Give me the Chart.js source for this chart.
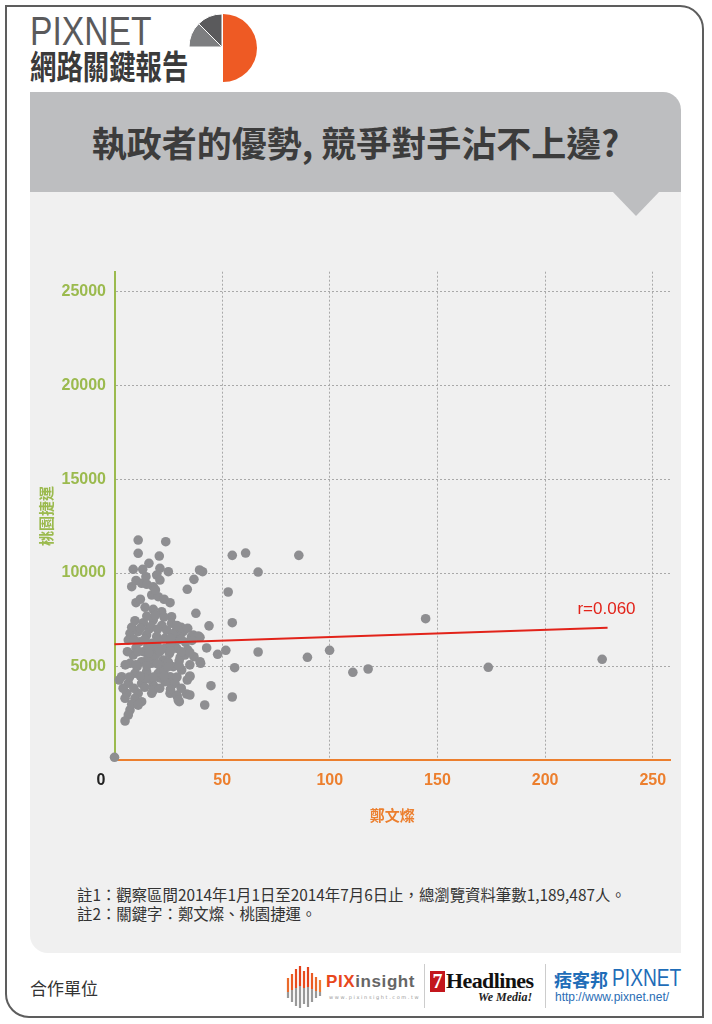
<!DOCTYPE html>
<html><head><meta charset="utf-8">
<script src="https://cdn.jsdelivr.net/npm/chart.js@4"></script>
<style>
html,body{margin:0;padding:0;background:#fff;}
body{width:712px;height:1024px;position:relative;overflow:hidden;font-family:"Noto Sans CJK TC",sans-serif;}
.abs{position:absolute;}
#frame{left:5px;top:5px;width:695px;height:1009px;border:2px solid #5d5d5d;border-radius:0 24px 0 24px;}
#band{left:30px;top:92px;width:651px;height:100px;background:#bdbec0;border-radius:0 18px 0 0;}
#panel{left:30px;top:192px;width:651px;height:761px;background:#f0f0f0;border-radius:0 0 0 18px;}
#brand{left:30px;top:11px;font-family:"Liberation Sans",Arial,sans-serif;font-size:41px;line-height:1;color:#5a5a5c;transform:scaleX(0.82);transform-origin:left top;white-space:nowrap;}
#brand2{left:30px;top:49px;font-size:33px;line-height:1;font-weight:bold;color:#3a3a3a;transform:scaleX(0.8);transform-origin:left top;white-space:nowrap;}
#title{left:30px;width:651px;top:124px;text-align:center;font-size:35px;line-height:1;font-weight:bold;color:#3c3c3c;white-space:nowrap;}
#notes{left:77px;top:885px;font-size:15.4px;line-height:19px;color:#333;white-space:nowrap;}
#coop{left:30px;top:978px;font-size:17px;line-height:20px;color:#333;}
#chart{left:0;top:0;}
</style></head><body>
<div id="frame" class="abs"></div>
<div id="band" class="abs"></div>
<div id="panel" class="abs"></div>
<svg class="abs" style="left:0;top:0" width="712" height="230">
  <polygon points="612,191 660,191 636,216" fill="#bdbec0"/>
  <g transform="translate(189,14)">
    <path d="M34,0 A34,34 0 0 1 34,68 Z" fill="#ee5a24"/>
    <path d="M33,33 L33,0 A33,33 0 0 0 9.7,9.7 Z" fill="#5a5a5c" stroke="#fff" stroke-width="1"/>
    <path d="M33,33 L9.7,9.7 A33,33 0 0 0 0,33 Z" fill="#7d7e80" stroke="#fff" stroke-width="1"/>
  </g>
</svg>
<div id="brand" class="abs">PIXNET</div>
<div id="brand2" class="abs">網路關鍵報告</div>
<div id="title" class="abs">執政者的優勢, 競爭對手沾不上邊?</div>
<div id="notes" class="abs">註1：觀察區間2014年1月1日至2014年7月6日止，總瀏覽資料筆數1,189,487人。<br>註2：關鍵字：鄭文燦、桃園捷運。</div>
<div id="coop" class="abs">合作單位</div>
<svg class="abs" style="left:284px;top:962px" width="42" height="50">
  <g stroke-width="2.2">
    <line x1="4" y1="16" x2="4" y2="30" stroke="#ea6a2a"/><line x1="4" y1="30" x2="4" y2="36" stroke="#999"/>
    <line x1="8" y1="12" x2="8" y2="28" stroke="#ea5a24"/><line x1="8" y1="28" x2="8" y2="40" stroke="#999"/>
    <line x1="12" y1="7" x2="12" y2="26" stroke="#e84d1f"/><line x1="12" y1="26" x2="12" y2="44" stroke="#999"/>
    <line x1="16" y1="4" x2="16" y2="24" stroke="#e2421c"/><line x1="16" y1="24" x2="16" y2="46" stroke="#999"/>
    <line x1="20" y1="9" x2="20" y2="26" stroke="#e84d1f"/><line x1="20" y1="26" x2="20" y2="42" stroke="#999"/>
    <line x1="24" y1="5" x2="24" y2="25" stroke="#e2421c"/><line x1="24" y1="25" x2="24" y2="45" stroke="#999"/>
    <line x1="28" y1="11" x2="28" y2="27" stroke="#ea5a24"/><line x1="28" y1="27" x2="28" y2="40" stroke="#999"/>
    <line x1="32" y1="15" x2="32" y2="29" stroke="#ea6a2a"/><line x1="32" y1="29" x2="32" y2="36" stroke="#999"/>
    <line x1="36" y1="18" x2="36" y2="30" stroke="#ee7a30"/><line x1="36" y1="30" x2="36" y2="34" stroke="#999"/>
  </g>
</svg>
<div class="abs" style="left:326px;top:972px;font-family:'Liberation Sans',Arial,sans-serif;font-weight:bold;font-size:17px;line-height:20px;letter-spacing:0.6px;white-space:nowrap"><span style="color:#e8481d">PIX</span><span style="color:#666">insight</span></div>
<div class="abs" style="left:329px;top:994px;font-family:'DejaVu Sans',sans-serif;font-size:5px;letter-spacing:1.6px;color:#999;white-space:nowrap">www.pixinsight.com.tw</div>
<div class="abs" style="left:424px;top:964px;width:1px;height:44px;background:#ccc"></div>
<div class="abs" style="left:430px;top:971px;width:15px;height:21px;background:#c3161c;color:#fff;font-family:'Liberation Serif',serif;font-weight:bold;font-size:20px;line-height:21px;text-align:center">7</div>
<div class="abs" style="left:446px;top:968px;font-family:'Liberation Serif',serif;font-weight:bold;font-size:22px;line-height:26px;letter-spacing:-0.6px;color:#111;white-space:nowrap">Headlines</div>
<div class="abs" style="left:478px;top:990px;font-family:'Liberation Serif',serif;font-style:italic;font-weight:bold;font-size:12px;line-height:14px;color:#222;white-space:nowrap">We Media!</div>
<div class="abs" style="left:545px;top:964px;width:1px;height:44px;background:#ccc"></div>
<div class="abs" style="left:554px;top:966px;font-size:18px;line-height:26px;font-weight:bold;color:#1f6db8;white-space:nowrap">痞客邦</div>
<div class="abs" style="left:612px;top:965px;font-family:'Liberation Sans',Arial,sans-serif;font-size:24px;line-height:26px;color:#1f6db8;transform:scaleX(0.8);transform-origin:left top;white-space:nowrap">PIXNET</div>
<div class="abs" style="left:555px;top:990px;font-family:'Liberation Sans','DejaVu Sans',sans-serif;font-size:12px;line-height:14px;color:#2a6db5;white-space:nowrap">http://www.pixnet.net/</div>
<canvas id="chart" class="abs" width="712" height="1024"></canvas>
<script>
// ---- data ----
const xAxisTitle = '鄭文燦';
const yAxisTitle = '桃園捷運';
const xTickValues = [50, 100, 150, 200, 250];
const yTickValues = [5000, 10000, 15000, 20000, 25000];
const originLabel = '0';
const xRange = [0, 258];
const yRange = [0, 26080];
// daily mentions: [鄭文燦, 桃園捷運]
const dailyPoints = [
  [54.7,10944],[60.9,11067],[85.6,10944],[66.7,10053],[52.8,8986],[54.7,7348],[43.9,7180],[144.5,7561],
  [42.8,6000],[51.7,5875],[47.9,5661],[66.7,5784],[89.6,5501],[99.9,5875],[110.7,4701],[117.8,4877],
  [173.6,4968],[226.5,5395],[55.8,4947],[44.8,3986],[54.7,3383],[41.9,2956],[40.9,10070],[39.5,10160],
  [36.9,9663],[33.8,9130],[37.8,7849],[36.6,6691],[39.7,6569],[36.9,5533],[40,5181],[35,4504],
  [33.8,4290],[33.5,3543],[29.1,3436],[30.1,3132],[26.5,4023],
  [11.0,11760],[23.8,11670],[11.0,11051],[20.8,10907],[16.0,10517],[8.7,10197],[13.1,10197],[21.1,10250],
  [25.0,10070],[14.6,9802],[19.6,9893],[21.1,9626],[8.0,9269],[12.6,9450],[18.0,9269],[17.3,8826],
  [20.3,8735],[10.0,8415],[14.2,8170],[18.0,8063],[25.8,8415],[21.9,7935],[26.5,7668],[9.5,7455],
  [13.4,7348],[26.5,7316],[24.2,6958],[28.9,6995],[7.2,6782],[11.0,6868],[14.9,6691],[19.6,6600],
  [31.9,6868],[35.8,6600],[38.9,6638],[6.4,6424],[11.8,6334],[17.3,6248],[23.4,6515],[28.1,6334],
  [8.7,5624],[13.4,5800],[18.0,5891],[23.4,5982],[28.9,5982],[32.7,5624],[39.7,5266],[7.2,5181],
  [12.6,5266],[17.3,5181],[22.6,5357],[27.3,5000],[31.2,4824],[3.3,4467],[9.5,4648],[14.9,4733],
  [20.3,4648],[25.8,4467],[35.0,4467],[6.4,4114],[12.6,4114],[18.0,4023],[23.4,4200],[28.1,4114],
  [5.7,3580],[11.0,3580],[17.3,3580],[25.8,3580],[28.9,3490],[35.0,3490],[29.6,3223],[4.9,3314],
  [9.5,3314],[7.2,2689],[6.4,2423],[4.9,2102],[0,165],[2.2,4290],[12.6,3132],[18.0,3757],
  [15.5,6100],[20.5,6000],[25.5,5700],[30.5,5500],[21.0,5100],[15.5,5450],[10.5,5000],[25.0,5250],
  [30.0,6600],[33.0,6300],[16.0,4350],[21.0,4400],[27.0,6750],[22.0,7200],[18.0,7500],[16.0,7000],
  [30.0,5300],[34.0,5900],[23.0,4800],[19.0,5600],[14.0,4400],[10.0,6000],[26.0,6200],[31.0,7100],
  [15.0,7700],[19.0,7750],[23.0,7650],[8.0,7100],[12.0,7050],[17.0,7150],[20.0,7000],[29.0,7200],[34.0,7050],
  [9.0,6450],[14.0,6450],[20.0,6400],[26.0,6500],[31.0,6450],[36.0,6400],
  [6.0,5800],[11.0,5800],[16.0,5750],[21.0,5800],[26.0,5850],[31.0,5800],[35.0,5750],
  [5.0,5100],[10.0,5100],[15.0,5050],[20.0,5150],[25.0,5000],[30.0,5050],[35.0,5100],
  [7.0,4450],[12.0,4500],[18.0,4450],[23.0,4500],[29.0,4450],
  [4.0,3850],[9.0,3850],[14.0,3900],[21.0,3850],[26.0,3800],[31.0,3850],[8.0,3000],[11.0,2950],
  [10.0,9600],[15.0,9400],[19.0,9100],[12.0,8600],[23.0,8600]
];
const trendX = [0, 229];
const trendY = [6200, 7080];
const trendLabel = 'r=0.060';

// ---- styles ----
const CJK = "'Noto Sans CJK TC',sans-serif";
const GREEN = '#9bba4e', ORANGE = '#ec7f2e', RED = '#e2231a', GRID = '#a9a9a9';
const X_TICK_PAD = 11;
const TICK_FONT = {family: "'Liberation Sans', Arial, sans-serif", size: 16, weight: 'bold'};
const TICK_FONT_STR = TICK_FONT.weight + ' ' + TICK_FONT.size + 'px ' + TICK_FONT.family;
const LABEL_FONT_STR = '17px ' + TICK_FONT.family;

const annotations = {
  id: 'annotations',
  afterDatasetsDraw(chart) {
    const {ctx, chartArea, scales: {x, y}} = chart;
    ctx.save();
    ctx.textBaseline = 'middle';
    ctx.font = TICK_FONT_STR;
    ctx.fillStyle = '#222';
    ctx.textAlign = 'center';
    ctx.fillText(originLabel, x.getPixelForValue(0) - 13.5, chartArea.bottom + X_TICK_PAD + TICK_FONT.size * 0.6);
    const ex = x.getPixelForValue(trendX[trendX.length - 1]);
    const ey = y.getPixelForValue(trendY[trendY.length - 1]);
    ctx.font = LABEL_FONT_STR;
    ctx.fillStyle = RED;
    ctx.textAlign = 'right';
    ctx.fillText(trendLabel, ex + 28, ey - 18);
    ctx.restore();
  }
};

new Chart(document.getElementById('chart'), {
  type: 'scatter',
  data: {
    datasets: [
      {type: 'line', data: trendX.map((v, i) => ({x: v, y: trendY[i]})), borderColor: RED, borderWidth: 2,
       pointRadius: 0, fill: false, order: 0, clip: false},
      {type: 'scatter', data: dailyPoints.map(p => ({x: p[0], y: p[1]})), backgroundColor: '#8e8e91',
       borderWidth: 0, pointRadius: 4.8, pointHoverRadius: 4.8, order: 1, clip: false}
    ]
  },
  options: {
    responsive: false, animation: false, devicePixelRatio: 1,
    layout: {padding: {left: 37, top: 271.7, right: 42, bottom: 200}},
    plugins: {legend: {display: false}, tooltip: {enabled: false}},
    scales: {
      x: {
        type: 'linear', position: 'bottom', min: xRange[0], max: xRange[1],
        afterBuildTicks: s => { s.ticks = xTickValues.map(v => ({value: v})); },
        afterFit: s => { s.height = 63.6; s.paddingLeft = 0; s.paddingRight = 0; },
        ticks: {color: ORANGE, font: TICK_FONT, padding: X_TICK_PAD, maxRotation: 0, autoSkip: false,
                callback: v => String(v)},
        grid: {color: GRID, lineWidth: 1, drawTicks: false},
        border: {color: ORANGE, width: 2, dash: [2, 2]},
        title: {display: true, text: xAxisTitle, color: ORANGE, font: {family: CJK, size: 15, weight: 'bold'}, padding: 0}
      },
      y: {
        type: 'linear', position: 'left', min: yRange[0], max: yRange[1],
        afterBuildTicks: s => { s.ticks = yTickValues.map(v => ({value: v})); },
        afterFit: s => { s.width = 77.5; s.paddingTop = 0; s.paddingBottom = 0; },
        ticks: {color: GREEN, font: TICK_FONT, padding: 8.5, autoSkip: false, callback: v => String(v)},
        grid: {color: GRID, lineWidth: 1, drawTicks: false},
        border: {color: GREEN, width: 2, dash: [2, 2]},
        title: {display: true, text: yAxisTitle, color: GREEN, font: {family: CJK, size: 15, weight: 'bold'}, padding: 0}
      }
    }
  },
  plugins: [annotations]
});
</script>
</body></html>
